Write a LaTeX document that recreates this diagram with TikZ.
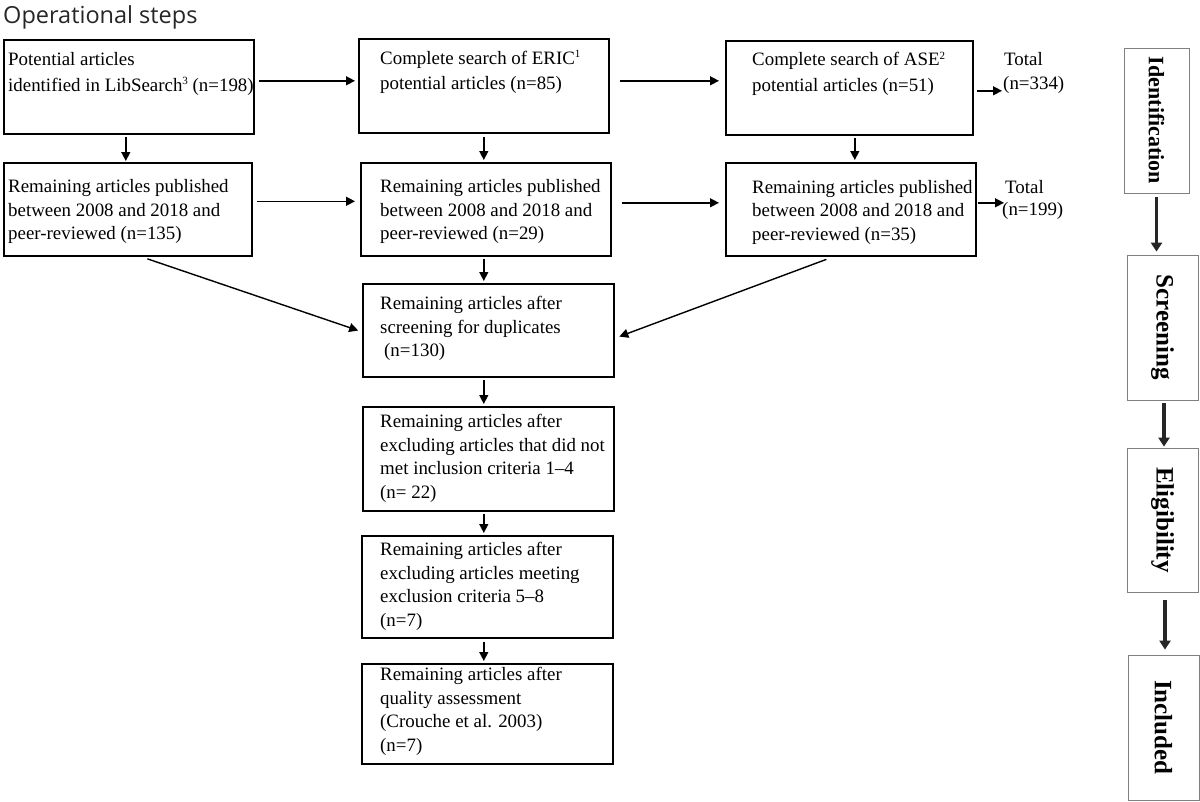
\documentclass[tikz,border=0pt]{standalone}
\usepackage{fontspec}
\setmainfont{Liberation Serif}
\newfontfamily\titlefont{Open Sans}
\usetikzlibrary{arrows.meta}
\newcommand{\smsup}[1]{\raisebox{6.5pt}{\fontsize{11}{11}\selectfont #1}}
\begin{document}
\begin{tikzpicture}[x=1pt,y=-1pt,
  box/.style={draw=black, line width=1.6pt, anchor=north west, inner sep=0pt},
  txt/.style={anchor=north west, inner sep=0pt, align=left, font=\fontsize{18.9}{23.5}\selectfont},
  txttop/.style={txt, font=\fontsize{18.9}{25.5}\selectfont},
  sidebox/.style={draw=black!50, line width=0.8pt, rotate=-90, inner sep=0pt},
  arr/.style={-{Triangle[length=9pt,width=9pt]}, line width=1.4pt},
  thickarr/.style={-{Triangle[length=9pt,width=11pt]}, line width=3.5pt, draw=black!85},
]
\useasboundingbox (0,0) rectangle (1200,801);

\node[anchor=base west, inner sep=0pt, font=\titlefont\fontsize{23.5}{26}\selectfont, text=black!85] (title) at (3,23) {Operational steps};

% boxes
\node[box, minimum width=250pt, minimum height=94pt] (A)  at (3,39) {};
\node[box, minimum width=250pt, minimum height=94pt] (B)  at (358,38) {};
\node[box, minimum width=247pt, minimum height=94pt] (C)  at (725,40) {};
\node[box, minimum width=248pt, minimum height=93pt] (A2) at (3,162) {};
\node[box, minimum width=250pt, minimum height=93pt] (B2) at (360,162) {};
\node[box, minimum width=250pt, minimum height=93pt] (C2) at (725,162) {};
\node[box, minimum width=251pt, minimum height=93pt] (D)  at (362,283) {};
\node[box, minimum width=251pt, minimum height=104pt] (E) at (362,406) {};
\node[box, minimum width=251pt, minimum height=102pt] (F) at (361,535) {};
\node[box, minimum width=251pt, minimum height=100pt] (G) at (361,663) {};

% texts
\node[txttop] (tA) at (8,52.3) {Potential articles\\identified in LibSearch\smsup{3} (n=198)};
\node[txttop] (tB) at (380,50.3) {Complete search of ERIC\smsup{1}\\potential articles (n=85)};
\node[txttop] (tC) at (752,52) {Complete search of ASE\smsup{2}\\potential articles (n=51)};
\node[txt] (tA2) at (8,179.3) {Remaining articles published\\between 2008 and 2018 and\\peer-reviewed (n=135)};
\node[txt] (tB2) at (380,179.3) {Remaining articles published\\between 2008 and 2018 and\\peer-reviewed (n=29)};
\node[txt] (tC2) at (752,180) {Remaining articles published\\between 2008 and 2018 and\\peer-reviewed (n=35)};
\node[txt] (tD) at (380,296) {Remaining articles after\\screening for duplicates\\\hspace*{4pt}(n=130)};
\node[txt] (tE) at (380,414) {Remaining articles after\\excluding articles that did not\\met inclusion criteria 1--4\\(n= 22)};
\node[txt] (tF) at (380,542) {Remaining articles after\\excluding articles meeting\\exclusion criteria 5--8\\(n=7)};
\node[txt] (tG) at (380,667) {Remaining articles after\\quality assessment\\(Crouche et al. 2003)\\(n=7)};

\node[txt, font=\fontsize{18.9}{24}\selectfont] (T1) at (1004,52.3) {Total\\\hspace*{-1pt}(n=334)};
\node[txt, font=\fontsize{18.9}{22.5}\selectfont] (T2) at (1005,180) {Total\\\hspace*{-3pt}(n=199)};

% side boxes
\node[sidebox, minimum width=145pt, minimum height=65pt, font=\bfseries\fontsize{22}{22}\selectfont] (S1) at (1156.5,120.5) {Identification};
\node[sidebox, minimum width=145pt, minimum height=71pt, font=\bfseries\fontsize{25}{25}\selectfont] (S2) at (1162.5,327.5) {Screening};
\node[sidebox, minimum width=144pt, minimum height=71pt, font=\bfseries\fontsize{25}{25}\selectfont] (S3) at (1162.5,520) {Eligibility};
\node[sidebox, minimum width=145pt, minimum height=71pt, font=\bfseries\fontsize{25}{25}\selectfont] (S4) at (1163.5,727.5) {Included};

% horizontal arrows
\draw[arr, shorten <=4pt, shorten >=3pt] ([yshift=6pt]A.east) -- ([yshift=6pt]A.east -| B.west);
\draw[arr, shorten <=10pt, shorten >=6pt] ([yshift=5pt]B.east) -- ([yshift=5pt]B.east -| C.west);
\draw[arr, shorten <=3pt, shorten >=2pt] ([yshift=-3pt]C.east) -- ([yshift=-3pt]C.east -| T1.west);
\draw[arr, shorten <=4pt, shorten >=5pt] ([yshift=8pt]A2.east) -- ([yshift=8pt]A2.east -| B2.west);
\draw[arr, shorten <=10pt, shorten >=6pt] ([yshift=6.5pt]B2.east) -- ([yshift=6.5pt]B2.east -| C2.west);
\draw[arr, shorten <=1pt, shorten >=1pt] ([yshift=6.5pt]C2.east) -- ([yshift=6.5pt]C2.east -| T2.west);

% vertical arrows
\draw[arr, shorten <=2pt, shorten >=1pt] ([xshift=-3pt]A.south) -- ([xshift=-3pt]A.south |- A2.north);
\draw[arr, shorten <=3pt, shorten >=2pt] (B.south) -- (B.south |- B2.north);
\draw[arr, shorten <=2pt, shorten >=2pt] ([xshift=5.5pt]C.south) -- ([xshift=5.5pt]C.south |- C2.north);
\draw[arr, shorten <=2pt, shorten >=2pt] ([xshift=-2pt]B2.south) -- ([xshift=-2pt]B2.south |- D.north);
\draw[arr, shorten <=2pt, shorten >=2pt] ([xshift=-4.5pt]D.south) -- ([xshift=-4.5pt]D.south |- E.north);
\draw[arr, shorten <=2pt, shorten >=2pt] ([xshift=-4.5pt]E.south) -- ([xshift=-4.5pt]E.south |- F.north);
\draw[arr, shorten <=3pt, shorten >=2pt] ([xshift=-3.5pt]F.south) -- ([xshift=-3.5pt]F.south |- G.north);

% diagonal arrows
\draw[arr, shorten <=7pt, shorten >=4pt] ([xshift=13pt]A2.south) -- ([yshift=-1.5pt]D.west);
\draw[arr, shorten <=8pt, shorten >=5pt] ([xshift=-17pt]C2.south) -- ([yshift=-8pt]D.east);

% side arrows (rotated nodes: east is the bottom, west is the top)
\draw[thickarr, shorten <=4pt, shorten >=3pt] (S1.east) -- (S1.east |- S2.west);
\draw[thickarr, shorten <=3pt, shorten >=1pt] ([xshift=1.5pt]S2.east) -- ([xshift=1.5pt]S2.east |- S3.west);
\draw[thickarr, shorten <=8pt, shorten >=5pt] ([xshift=2.5pt]S3.east) -- ([xshift=2.5pt]S3.east |- S4.west);
\end{tikzpicture}
\end{document}
